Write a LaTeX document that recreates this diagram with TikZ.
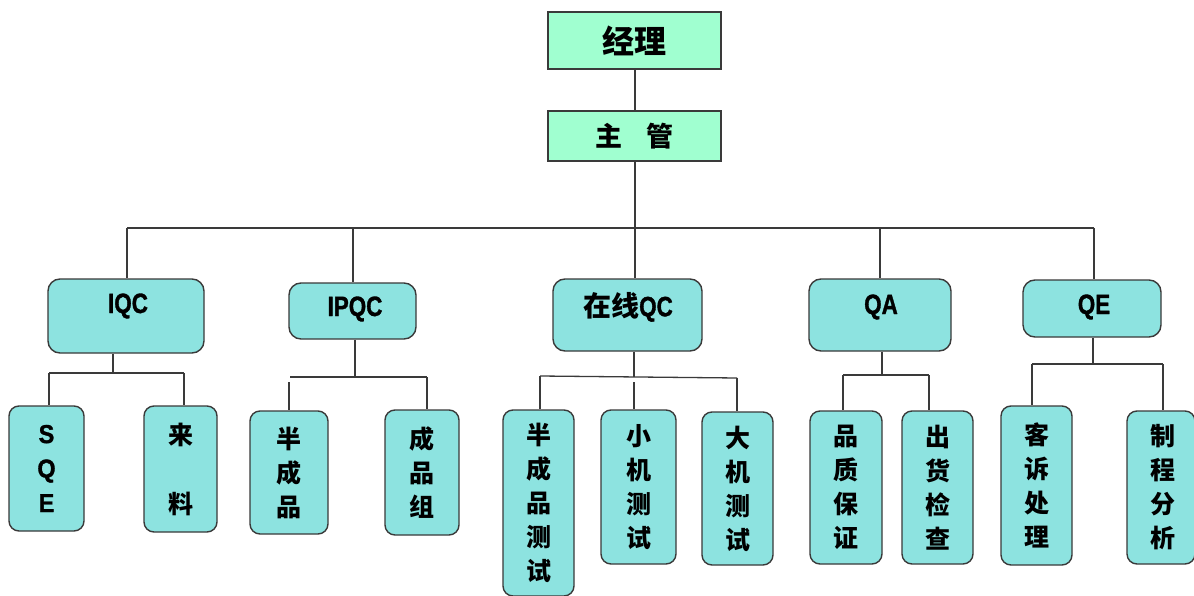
\documentclass[tikz,border=0pt]{standalone}
\usepackage{fontspec}
\newfontfamily\cjk{Noto Sans CJK SC}
\newfontfamily\latn[FakeStretch=0.8,FakeBold=1.2]{Liberation Sans Bold}
\newfontfamily\latnw[FakeStretch=0.9,FakeBold=1.2]{Liberation Sans Bold}
\definecolor{mint}{HTML}{A0FFD0}
\definecolor{teal}{HTML}{8DE3E0}
\definecolor{edge}{HTML}{3A3A3A}
\begin{document}
\begin{tikzpicture}[x=1pt,y=-1pt,
  headbox/.style={draw=edge,line width=1.4pt,fill=mint,inner sep=0pt},
  unitbox/.style={draw=edge,line width=1.4pt,fill=teal,rounded corners=12pt,inner sep=0pt},
  leafbox/.style={draw=edge,line width=1.4pt,fill=teal,rounded corners=10pt,inner sep=0pt,align=center,
    font={\cjk\bfseries\fontsize{25pt}{34pt}\selectfont}},
  unitlbl/.style={inner sep=0pt,font={\latn\fontsize{28pt}{30pt}\selectfont}},
  wire/.style={draw=edge,line width=1.3pt}]
\useasboundingbox (0,0) rectangle (1194,596);
\fill[white] (0,0) rectangle (1194,596);
% heads
\node[headbox,minimum width=173pt,minimum height=57pt,font={\cjk\bfseries\fontsize{32pt}{34pt}\selectfont}] (jl) at (634.5,40.5) {经理};
\node[headbox,minimum width=173pt,minimum height=50pt,font={\cjk\bfseries\fontsize{27pt}{30pt}\selectfont}] (zg) at (634.5,136) {主\hspace{0.9em}管};
% units
\node[unitbox,minimum width=156pt,minimum height=74pt] (iqc) at (126,316) {};
\node[unitbox,minimum width=127pt,minimum height=56pt] (ipqc) at (352.5,311) {};
\node[unitbox,minimum width=149pt,minimum height=72pt] (zx) at (627.5,315) {};
\node[unitbox,minimum width=142pt,minimum height=72pt] (qa) at (880,315) {};
\node[unitbox,minimum width=138pt,minimum height=57pt] (qe) at (1092,308.5) {};
\node[unitlbl] (iqct) at (128,306) {IQC};
\node[unitlbl] (ipqct) at (355,309) {IPQC};
\node[unitlbl] (zxt) at (628,307) {{\cjk\bfseries 在线}QC};
\node[unitlbl] (qat) at (881,307) {QA};
\node[unitlbl] (qet) at (1094,307) {QE};
% leaves
\node[leafbox,minimum width=75pt,minimum height=125pt,font={\latnw\fontsize{26pt}{34.5pt}\selectfont}] (sqe) at (46.5,468.5) {S\\Q\\E};
\node[leafbox,minimum width=73pt,minimum height=126pt,font={\cjk\bfseries\fontsize{25pt}{69pt}\selectfont}] (ll) at (180.5,469) {来\\料};
\node[leafbox,minimum width=78pt,minimum height=123pt] (bcp) at (289,472.5) {半\\成\\品};
\node[leafbox,minimum width=74pt,minimum height=125pt] (cpz) at (422,472.5) {成\\品\\组};
\node[leafbox,minimum width=71pt,minimum height=186pt] (bcpcs) at (538.5,503) {半\\成\\品\\测\\试};
\node[leafbox,minimum width=75pt,minimum height=154pt] (xj) at (638.5,487) {小\\机\\测\\试};
\node[leafbox,minimum width=71pt,minimum height=153pt] (dj) at (737.5,488.5) {大\\机\\测\\试};
\node[leafbox,minimum width=72pt,minimum height=153pt] (pz) at (846,487.5) {品\\质\\保\\证};
\node[leafbox,minimum width=71pt,minimum height=153pt] (ch) at (937.5,487.5) {出\\货\\检\\查};
\node[leafbox,minimum width=71pt,minimum height=159pt] (ks) at (1036.5,485.5) {客\\诉\\处\\理};
\node[leafbox,minimum width=68pt,minimum height=153pt,text width=68pt] (zc) at (1161,487.5) {\hspace*{3pt}制\\\hspace*{3pt}程\\\hspace*{3pt}分\\\hspace*{3pt}析};
% main trunk
\coordinate (bar) at (635,228);
\draw[wire] (bar |- jl.south) -- (bar |- zg.north);
\draw[wire] (zg.south -| bar) -- (bar);
\coordinate (barL) at (127,228);
\coordinate (barR) at (1094,228);
\draw[wire] (barL) -- (barR);
\draw[wire] (barL) -- (barL |- iqc.north);
\coordinate (b2) at (353,228);
\draw[wire] (b2) -- (b2 |- ipqc.north);
\draw[wire] (bar) -- (bar |- zx.north);
\coordinate (b4) at (880,228);
\draw[wire] (b4) -- (b4 |- qa.north);
\draw[wire] (barR) -- (barR |- qe.north);
% IQC group
\coordinate (j1) at (113,373);
\coordinate (j1L) at (49,373);
\coordinate (j1R) at (184,373);
\draw[wire] (j1 |- iqc.south) -- (j1);
\draw[wire] (j1L) -- (j1R);
\draw[wire] (j1L) -- (j1L |- sqe.north);
\draw[wire] (j1R) -- (j1R |- ll.north);
% IPQC group
\coordinate (j2) at (355,377);
\coordinate (j2L) at (290,377);
\coordinate (j2R) at (427,377);
\coordinate (j2Ls) at (289,382);
\draw[wire] (j2 |- ipqc.south) -- (j2);
\draw[wire] (j2L) -- (j2R);
\draw[wire] (j2Ls) -- (j2Ls |- bcp.north);
\draw[wire] (j2R) -- (j2R |- cpz.north);
% online QC group
\coordinate (j3) at (634,377);
\coordinate (j3L) at (540,376);
\coordinate (j3R) at (737,378);
\coordinate (j3M) at (634,382);
\draw[wire] (j3 |- zx.south) -- (j3);
\draw[wire] (j3L) -- (j3R);
\draw[wire] (j3L) -- (j3L |- bcpcs.north);
\draw[wire] (j3M) -- (j3M |- xj.north);
\draw[wire] (j3R) -- (j3R |- dj.north);
% QA group
\coordinate (j4) at (882,375);
\coordinate (j4L) at (843,375);
\coordinate (j4R) at (929,375);
\draw[wire] (j4 |- qa.south) -- (j4);
\draw[wire] (j4L) -- (j4R);
\draw[wire] (j4L) -- (j4L |- pz.north);
\draw[wire] (j4R) -- (j4R |- ch.north);
% QE group
\coordinate (j5) at (1093,364);
\coordinate (j5L) at (1032,364);
\coordinate (j5R) at (1163,364);
\draw[wire] (j5 |- qe.south) -- (j5);
\draw[wire] (j5L) -- (j5R);
\draw[wire] (j5L) -- (j5L |- ks.north);
\draw[wire] (j5R) -- (j5R |- zc.north);
\end{tikzpicture}
\end{document}
